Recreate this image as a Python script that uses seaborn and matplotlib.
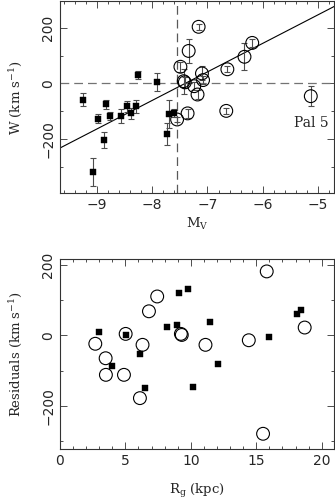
import numpy as np
import matplotlib
matplotlib.use("Agg")
import matplotlib.pyplot as plt
import seaborn as sns
from matplotlib.ticker import MultipleLocator

# top panel: W vs M_V, filled squares and open circles with errors
sq_mv = [-9.25, -8.99, -8.84, -8.77, -8.56, -8.46, -8.39, -8.29, -8.26, -7.91,
         -7.70, -7.61, -8.87, -9.08, -7.73]
sq_w = [-58, -127, -76, -118, -118, -82, -108, -82, 30, 6,
        -109, -106, -204, -320, -182]
sq_err = [22, 15, 17, 15, 24, 20, 20, 23, 14, 32,
          50, 15, 30, 50, 39]

ci_mv = [-7.16, -7.34, -7.49, -7.43, -7.41, -7.24, -7.18, -7.10, -7.08, -6.64,
         -6.33, -6.19, -6.66, -7.36, -7.55, -5.13]
ci_w = [204, 117, 60, 8, 4, -10, -40, 36, 12, 51,
        96, 146, -99, -108, -130, -46]
ci_err = [10, 43, 18, 45, 20, 15, 15, 25, 15, 10,
          48, 15, 12, 15, 10, 36]

fit_mv = [-9.7, -4.7]
fit_w = [-236, 278]

# bottom panel: residuals vs R_g
sq_rg = [3.01, 5.02, 4.00, 6.11, 8.20, 8.91, 9.11, 9.80, 11.48, 12.11,
         16.01, 18.09, 18.40, 6.52, 10.13]
sq_res = [9, 0, -86, -53, 23, 28, 121, 132, 39, -80,
          -6, 59, 73, -150, -147]

ci_rg = [2.70, 5.02, 3.49, 3.51, 4.89, 6.31, 6.80, 7.43, 9.24, 9.31,
         11.12, 14.43, 15.80, 18.70, 6.11, 15.52]
ci_res = [-24, 4, -65, -112, -112, -27, 68, 110, 4, 1,
          -27, -14, 181, 22, -178, -279]

sns.set_style("ticks")
plt.rcParams["font.family"] = ["DejaVu Serif"]
plt.rcParams["mathtext.fontset"] = "dejavuserif"
plt.rcParams["font.size"] = 9.5

fig = plt.figure(figsize=(3.35, 5.04), dpi=100)
ax1 = fig.add_axes([0.179, 0.6165, 0.818, 0.3815])
ax2 = fig.add_axes([0.179, 0.1085, 0.818, 0.3775])

# top
ax1.axvline(-7.55, color="0.35", ls=(0, (7, 4)), lw=0.9, zorder=1)
ax1.axhline(0, color="0.45", ls=(0, (7, 4)), lw=0.9, zorder=1)
ax1.plot(fit_mv, fit_w, color="black", lw=0.8, zorder=2)
ax1.errorbar(sq_mv, sq_w, yerr=sq_err, fmt="none", ecolor="0.3",
             elinewidth=0.8, capsize=2.5, capthick=0.8, zorder=3)
ax1.errorbar(ci_mv, ci_w, yerr=ci_err, fmt="none", ecolor="0.3",
             elinewidth=0.8, capsize=2.5, capthick=0.8, zorder=3)
sns.scatterplot(x=sq_mv, y=sq_w, ax=ax1, marker="s", s=20, color="black",
                edgecolor="black", linewidth=0.3, zorder=4)
sns.scatterplot(x=ci_mv, y=ci_w, ax=ax1, marker="o", s=85, facecolor="none",
                edgecolor="black", linewidth=0.8, zorder=4)
ax1.text(-4.8, -143, "Pal 5", ha="right", va="center", fontsize=10)
ax1.set_xlim(-9.67, -4.71)
ax1.set_ylim(-396, 297)
ax1.xaxis.set_major_locator(MultipleLocator(1))
ax1.xaxis.set_minor_locator(MultipleLocator(0.2))
ax1.yaxis.set_major_locator(MultipleLocator(200))
ax1.yaxis.set_minor_locator(MultipleLocator(100))
ax1.set_xlabel("M$_{\\rm V}$", labelpad=3)
ax1.set_ylabel("W (km s$^{-1}$)", labelpad=12)

# bottom
sns.scatterplot(x=sq_rg, y=sq_res, ax=ax2, marker="s", s=20, color="black",
                edgecolor="black", linewidth=0.3, zorder=4)
sns.scatterplot(x=ci_rg, y=ci_res, ax=ax2, marker="o", s=85, facecolor="none",
                edgecolor="black", linewidth=0.8, zorder=4)
ax2.set_xlim(0, 20.94)
ax2.set_ylim(-323, 216)
ax2.xaxis.set_major_locator(MultipleLocator(5))
ax2.xaxis.set_minor_locator(MultipleLocator(1))
ax2.yaxis.set_major_locator(MultipleLocator(200))
ax2.yaxis.set_minor_locator(MultipleLocator(100))
ax2.set_xlabel("R$_{\\rm g}$ (kpc)", labelpad=10)
ax2.set_ylabel("Residuals (km s$^{-1}$)", labelpad=12)

for ax in (ax1, ax2):
    ax.tick_params(which="both", direction="in", top=True, right=True,
                   color="0.3", width=0.7)
    ax.tick_params(which="major", length=5, labelsize=10)
    ax.tick_params(which="minor", length=2.5)
    ax.tick_params(axis="y", labelrotation=90)
    for lab in ax.get_yticklabels() + ax.get_xticklabels():
        lab.set_family("DejaVu Sans")
    for lab in ax.get_yticklabels():
        lab.set_va("center")
    for sp in ax.spines.values():
        sp.set_linewidth(0.8)
        sp.set_color("0.2")

fig.savefig("out.png", dpi=100)
